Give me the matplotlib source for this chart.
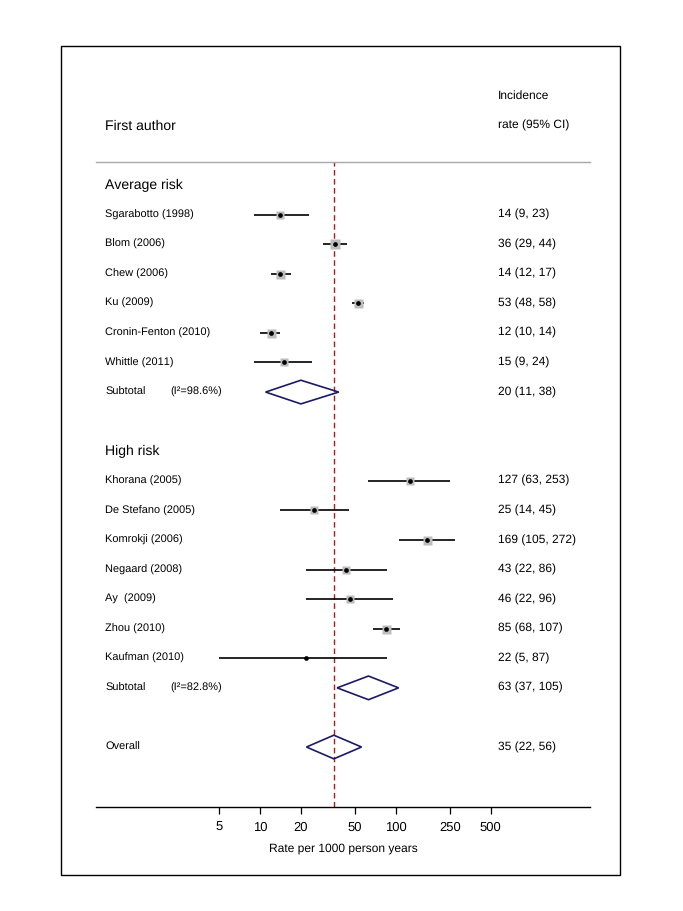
import matplotlib
matplotlib.use('Agg')
import matplotlib.pyplot as plt
import matplotlib.transforms as mtrans
from matplotlib.patches import Polygon, Rectangle
import numpy as np

plt.rcParams['font.family'] = ['Liberation Sans', 'DejaVu Sans']
plt.rcParams['text.hinting'] = 'no_hinting'
plt.rcParams['text.hinting_factor'] = 1

# Study data: rate per 1000 person years with 95% CI
avg_names = ['Sgarabotto (1998)', 'Blom (2006)', 'Chew (2006)', 'Ku (2009)',
             'Cronin-Fenton (2010)', 'Whittle (2011)']
avg_est = [14, 36, 14, 53, 12, 15]
avg_lo = [9, 29, 12, 48, 10, 9]
avg_hi = [23, 44, 17, 58, 14, 24]
avg_box = [8, 10, 9, 9, 9, 8]          # weight box size (px)
avg_sub = (20, 11, 38)
avg_i2 = '(I\u00b2=98.6%)'

high_names = ['Khorana (2005)', 'De Stefano (2005)', 'Komrokji (2006)',
              'Negaard (2008)', 'Ay  (2009)', 'Zhou (2010)', 'Kaufman (2010)']
high_est = [127, 25, 169, 43, 46, 85, 22]
high_lo = [63, 14, 105, 22, 22, 68, 5]
high_hi = [253, 45, 272, 86, 96, 107, 87]
high_box = [8, 8, 9, 8, 8, 9, 0]
high_sub = (63, 37, 105)
high_i2 = '(I\u00b2=82.8%)'

overall = (35, 22, 56)

xticks = [5, 10, 20, 50, 100, 250, 500]

W, H = 683, 911
fig = plt.figure(figsize=(W / 100, H / 100), dpi=100)

def fx(px):
    return px / W

def fy(py):
    return 1 - py / H

# axes region in pixels
ax_l, ax_r, ax_t, ax_b = 96, 590, 162, 807
ax = fig.add_axes([fx(ax_l), fy(ax_b), fx(ax_r) - fx(ax_l), fy(ax_t) - fy(ax_b)])

# log scale mapping: 10 -> px 260, one decade = 135.7 px
dec = 135.7
ax.set_xscale('log')
ax.set_xlim(10 ** (1 + (ax_l - 260) / dec), 10 ** (1 + (ax_r - 260) / dec))

# rows: row 0 at px 185, spacing 29.58 px
row0, rstep = 185, 29.58
ax.set_ylim((ax_b - row0) / rstep, (ax_t - row0) / rstep)

for s in ['left', 'right']:
    ax.spines[s].set_visible(False)
ax.spines['top'].set_color('#a8a8a8')
ax.spines['top'].set_linewidth(1.0)
ax.spines['bottom'].set_color('black')
ax.spines['bottom'].set_linewidth(1.0)
ax.set_yticks([])
ax.set_xticks(xticks)
ax.set_xticklabels([str(t) for t in xticks])
ax.minorticks_off()
ax.tick_params(axis='x', direction='out', length=5, width=0.9, pad=5.5, labelsize=9.0)
ax.set_xlabel('Rate per 1000 person years', fontsize=8.5, labelpad=6.5)

trans = mtrans.blended_transform_factory(fig.transFigure, ax.transData)
name_x = fx(105)
val_x = fx(498)
i2_x = fx(170)

navy = '#1a1a66'
fs_name = 8.2
fs_val = 8.8

def study(row, name, est, lo, hi, box):
    ax.plot([lo, hi], [row, row], color='black', lw=1.2, solid_capstyle='butt', zorder=3)
    if box > 0:
        ax.plot([est], [row], marker='s', ms=box * 0.72, color='#bdbdbd',
                mec='none', zorder=3)
    ax.plot([est], [row], marker='o', ms=3.4, color='black', mec='none', zorder=4)
    ax.text(name_x, row, name, transform=trans, fontsize=fs_name, va='center', ha='left')
    ax.text(val_x, row, '%d (%d, %d)' % (est, lo, hi), transform=trans,
            fontsize=fs_val, va='center', ha='left')

def diamond(row, name, est, lo, hi, extra=None):
    d = Polygon([[lo, row], [est, row - 0.4], [hi, row], [est, row + 0.4]],
                closed=True, fill=False, edgecolor=navy, lw=1.2, zorder=3)
    ax.add_patch(d)
    ax.text(name_x, row, name, transform=trans, fontsize=fs_name, va='center', ha='left')
    if extra:
        ax.text(i2_x, row, extra, transform=trans, fontsize=fs_name, va='center', ha='left')
    ax.text(val_x, row, '%d (%d, %d)' % (est, lo, hi), transform=trans,
            fontsize=fs_val, va='center', ha='left')

# headers
ax.text(val_x, -3, 'Incidence', transform=trans, fontsize=fs_val, va='center', clip_on=False)
ax.text(val_x, -2, 'rate (95% CI)', transform=trans, fontsize=fs_val, va='center', clip_on=False)
ax.text(name_x, -2, 'First author', transform=trans, fontsize=10, va='center', clip_on=False)

r = 0
ax.text(name_x, r, 'Average risk', transform=trans, fontsize=10, va='center')
for i in range(len(avg_names)):
    r += 1
    study(r, avg_names[i], avg_est[i], avg_lo[i], avg_hi[i], avg_box[i])
r += 1
diamond(r, 'Subtotal', *avg_sub, extra=avg_i2)

r += 2
ax.text(name_x, r, 'High risk', transform=trans, fontsize=10, va='center')
for i in range(len(high_names)):
    r += 1
    study(r, high_names[i], high_est[i], high_lo[i], high_hi[i], high_box[i])
r += 1
diamond(r, 'Subtotal', *high_sub, extra=high_i2)

r += 2
diamond(r, 'Overall', *overall)

ax.axvline(overall[0], color='#8b2a2a', lw=1.0, ls=(0, (4, 2.5)), zorder=2)

# outer frame
fig.add_artist(Rectangle((fx(61), fy(875)), fx(620) - fx(61), fy(46) - fy(875),
                         transform=fig.transFigure, fill=False,
                         edgecolor='black', lw=1.0))

plt.savefig('out.png', dpi=100)
